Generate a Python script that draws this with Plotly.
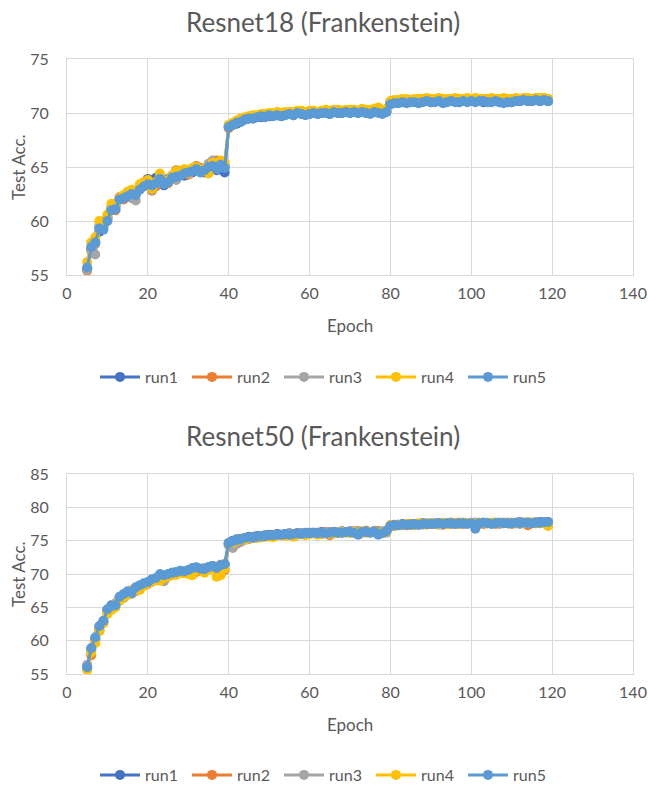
import plotly.graph_objects as go

W, H = 648, 786

epochs = list(range(5, 120))

# ---------- Resnet18 (Frankenstein) ----------
r18_run1 = [55.6, 57.4, 58.1, 59.0, 59.6, 60.2, 61.1, 61.4, 62.1, 62.2,
            62.4, 62.7, 62.6, 63.0, 63.3, 63.9, 63.2, 64.0, 63.8, 63.3,
            63.9, 64.0, 64.4, 64.6, 64.2, 64.3, 64.5, 64.7, 64.9, 64.5,
            64.8, 65.0, 64.7, 65.3, 64.5,
            68.7, 68.9, 69.0, 69.2, 69.4, 69.5, 69.5, 69.6, 69.6, 69.7,
            69.7, 69.8, 69.8, 69.7, 69.9, 69.9, 69.8, 70.0, 69.9, 69.9,
            69.9, 70.0, 69.9, 70.0, 70.1, 69.9, 70.1, 70.0, 70.0, 70.1,
            70.0, 70.1, 70.0, 70.1, 70.0, 70.0, 70.1, 70.1, 70.0, 70.1,
            70.9, 71.0, 71.0, 71.1, 71.0, 71.1, 71.1, 71.0, 71.1, 71.1,
            71.0, 71.1, 71.1, 71.0, 71.1, 71.1, 71.1, 71.0, 71.1, 71.1,
            71.1, 71.1, 71.1, 71.0, 71.1, 71.1, 71.1, 71.0, 71.1, 71.1,
            71.0, 71.1, 71.1, 71.2, 71.1, 71.1, 71.2, 71.1, 71.2, 71.1]
r18_run2 = [55.4, 57.5, 57.9, 59.4, 59.5, 60.4, 61.3, 61.0, 62.2, 62.0,
            62.6, 62.8, 62.5, 63.1, 63.5, 63.6, 62.8, 63.2, 63.9, 63.7,
            63.5, 64.2, 64.7, 64.3, 64.5, 64.3, 64.8, 65.1, 64.7, 64.6,
            64.9, 65.2, 65.6, 65.1, 65.0,
            68.6, 68.9, 69.1, 69.3, 69.5, 69.5, 69.6, 69.7, 69.7, 69.8,
            69.8, 69.9, 69.9, 69.8, 70.0, 70.0, 69.9, 70.1, 70.0, 70.0,
            70.0, 70.1, 70.0, 70.1, 70.1, 70.0, 70.2, 70.1, 70.1, 70.2,
            70.1, 70.2, 70.1, 70.2, 70.1, 70.1, 70.2, 70.2, 70.1, 70.2,
            71.0, 71.0, 71.1, 71.1, 71.1, 71.1, 71.1, 71.0, 71.2, 71.2,
            71.1, 71.2, 71.2, 71.1, 71.1, 71.2, 71.2, 71.1, 71.2, 71.2,
            71.2, 71.1, 71.2, 71.2, 71.1, 71.2, 71.2, 71.1, 71.2, 71.2,
            71.1, 71.2, 71.2, 71.3, 71.2, 71.2, 71.3, 71.2, 71.3, 71.2]
r18_run3 = [55.5, 57.2, 56.9, 59.5, 59.4, 60.3, 61.2, 61.3, 62.0, 62.3,
            62.4, 62.1, 61.9, 63.0, 63.4, 63.5, 62.9, 63.4, 64.0, 63.6,
            63.7, 64.1, 63.8, 64.4, 64.6, 64.6, 64.7, 64.9, 64.8, 64.8,
            65.3, 65.6, 65.4, 65.0, 65.2,
            68.8, 69.0, 69.2, 69.4, 69.5, 69.6, 69.7, 69.7, 69.8, 69.8,
            69.9, 69.9, 70.0, 69.9, 70.0, 70.0, 70.0, 70.1, 70.1, 70.0,
            70.1, 70.1, 70.0, 70.1, 70.2, 70.1, 70.2, 70.2, 70.1, 70.2,
            70.2, 70.2, 70.1, 70.3, 70.2, 70.2, 70.3, 70.3, 70.2, 70.3,
            71.0, 71.1, 71.1, 71.2, 71.2, 71.1, 71.2, 71.2, 71.3, 71.3,
            71.2, 71.2, 71.3, 71.2, 71.2, 71.3, 71.3, 71.2, 71.3, 71.3,
            71.2, 71.3, 71.3, 71.2, 71.3, 71.3, 71.2, 71.3, 71.3, 71.2,
            71.3, 71.3, 71.2, 71.3, 71.3, 71.3, 71.4, 71.3, 71.4, 71.3]
r18_run4 = [56.2, 58.0, 58.5, 60.0, 59.8, 60.6, 61.6, 61.5, 62.1, 62.4,
            62.7, 62.9, 62.7, 63.4, 63.6, 63.8, 63.0, 63.6, 64.4, 63.5,
            63.8, 64.2, 64.6, 64.5, 64.8, 64.4, 64.9, 65.0, 64.6, 64.9,
            64.4, 65.4, 65.3, 65.6, 65.4,
            68.9, 69.1, 69.3, 69.5, 69.6, 69.7, 69.8, 69.8, 69.9, 69.9,
            70.0, 70.0, 70.1, 70.0, 70.1, 70.1, 70.1, 70.2, 70.2, 70.1,
            70.2, 70.2, 70.1, 70.2, 70.3, 70.2, 70.3, 70.3, 70.2, 70.3,
            70.3, 70.3, 70.2, 70.4, 70.3, 70.3, 70.4, 70.5, 70.3, 70.4,
            71.1, 71.2, 71.2, 71.3, 71.3, 71.2, 71.3, 71.3, 71.3, 71.4,
            71.3, 71.3, 71.4, 71.3, 71.3, 71.3, 71.4, 71.3, 71.3, 71.4,
            71.3, 71.4, 71.3, 71.3, 71.3, 71.4, 71.3, 71.3, 71.4, 71.3,
            71.3, 71.4, 71.3, 71.4, 71.4, 71.3, 71.4, 71.4, 71.4, 71.3]
r18_run5 = [55.7, 57.6, 58.0, 59.3, 59.2, 60.0, 61.0, 61.1, 62.0, 62.1,
            62.3, 62.5, 62.4, 62.9, 63.2, 63.4, 63.3, 63.5, 63.9, 63.4,
            63.6, 64.0, 64.1, 64.2, 64.4, 64.5, 64.6, 64.8, 64.5, 64.7,
            65.0, 65.1, 64.8, 65.2, 64.9,
            68.7, 68.9, 69.1, 69.2, 69.4, 69.5, 69.5, 69.6, 69.7, 69.6,
            69.8, 69.7, 69.8, 69.7, 69.8, 69.9, 69.8, 70.0, 69.9, 69.8,
            69.9, 70.0, 69.9, 70.0, 70.0, 69.9, 70.1, 70.0, 70.0, 70.1,
            70.0, 70.1, 70.0, 70.1, 70.0, 69.9, 70.1, 70.0, 69.9, 70.1,
            70.8, 70.9, 70.9, 71.0, 70.9, 71.0, 71.0, 70.9, 71.0, 71.1,
            71.0, 71.0, 71.1, 70.9, 71.0, 71.1, 71.0, 71.0, 71.1, 71.0,
            71.1, 71.0, 71.1, 71.1, 71.0, 71.0, 71.1, 71.0, 70.9, 71.0,
            71.0, 71.1, 71.1, 71.2, 71.1, 71.1, 71.2, 71.1, 71.2, 71.1]

# ---------- Resnet50 (Frankenstein) ----------
r50_run1 = [56.2, 58.7, 60.3, 61.5, 62.7, 64.6, 65.3, 65.5, 66.4, 66.9,
            67.3, 67.4, 67.9, 68.2, 68.5, 68.7, 69.1, 69.3, 69.8, 69.7,
            69.9, 70.2, 70.2, 70.4, 70.3, 70.5, 70.8, 70.9, 70.7, 70.8,
            71.0, 71.2, 71.0, 71.2, 71.4,
            74.7, 75.0, 75.2, 75.3, 75.4, 75.6, 75.6, 75.7, 75.7, 75.8,
            75.9, 75.8, 76.0, 75.9, 76.0, 76.1, 76.0, 76.1, 76.1, 76.2,
            76.2, 76.2, 76.1, 76.3, 76.2, 76.3, 76.3, 76.2, 76.4, 76.3,
            76.4, 76.3, 76.4, 76.3, 76.5, 76.3, 76.4, 76.4, 76.3, 76.5,
            77.2, 77.4, 77.3, 77.5, 77.4, 77.5, 77.4, 77.5, 77.6, 77.5,
            77.6, 77.5, 77.6, 77.6, 77.5, 77.7, 77.6, 77.5, 77.7, 77.6,
            77.6, 77.7, 77.6, 77.7, 77.7, 77.6, 77.7, 77.6, 77.7, 77.7,
            77.7, 77.6, 77.8, 77.7, 77.7, 77.7, 77.6, 77.8, 77.7, 77.8]
r50_run2 = [55.9, 57.8, 60.0, 61.7, 62.9, 64.3, 65.1, 65.4, 66.2, 66.8,
            67.1, 67.5, 67.4, 68.0, 68.5, 68.5, 69.1, 69.2, 69.5, 69.6,
            69.7, 69.9, 70.1, 70.3, 70.2, 70.4, 70.6, 70.3, 70.8, 70.6,
            70.9, 71.1, 71.0, 71.4, 70.6,
            74.4, 74.8, 75.0, 75.1, 75.3, 75.3, 75.5, 75.6, 75.5, 75.7,
            75.8, 75.7, 75.9, 75.8, 75.9, 76.0, 75.9, 76.1, 76.0, 76.0,
            76.1, 76.1, 76.2, 76.0, 76.3, 75.8, 76.2, 76.2, 76.3, 76.3,
            76.2, 76.4, 76.3, 76.2, 76.4, 76.3, 76.3, 76.4, 76.3, 76.4,
            77.3, 77.2, 77.4, 77.4, 77.3, 77.5, 77.5, 77.4, 77.6, 77.5,
            77.5, 77.6, 77.5, 77.4, 77.6, 77.5, 77.6, 77.7, 77.5, 77.6,
            77.6, 77.6, 77.7, 77.5, 77.6, 77.7, 77.5, 77.7, 77.6, 77.7,
            77.5, 77.6, 77.7, 77.6, 77.3, 77.6, 77.7, 77.6, 77.7, 77.6]
r50_run3 = [56.4, 58.5, 60.2, 62.0, 62.8, 64.5, 65.0, 65.6, 66.3, 66.4,
            67.2, 67.0, 67.8, 68.1, 68.4, 68.6, 69.0, 69.1, 69.6, 68.9,
            69.8, 70.1, 70.0, 70.2, 70.3, 70.5, 70.4, 70.6, 70.7, 70.9,
            70.8, 71.0, 71.1, 71.0, 71.3,
            74.3, 73.9, 74.5, 74.8, 75.1, 75.2, 75.4, 75.5, 75.5, 75.6,
            75.7, 75.7, 75.8, 75.9, 75.8, 76.0, 76.0, 75.9, 76.1, 76.1,
            76.0, 76.1, 76.2, 76.1, 76.2, 76.3, 76.1, 76.3, 76.2, 76.3,
            76.4, 76.2, 76.3, 76.3, 76.4, 76.2, 76.4, 76.3, 76.4, 76.2,
            77.1, 77.3, 77.4, 77.3, 77.5, 77.3, 77.4, 77.5, 77.4, 77.6,
            77.5, 77.6, 77.4, 77.6, 77.5, 77.7, 77.5, 77.6, 77.5, 77.6,
            77.7, 77.6, 77.5, 77.7, 77.6, 77.6, 77.7, 77.5, 77.7, 77.6,
            77.6, 77.7, 77.5, 77.7, 77.6, 77.7, 77.8, 77.6, 77.7, 77.7]
r50_run4 = [55.6, 58.2, 59.6, 61.4, 62.6, 64.0, 64.6, 65.0, 66.0, 66.5,
            66.9, 67.6, 67.5, 67.6, 68.2, 68.6, 68.8, 69.2, 69.0, 69.4,
            69.6, 70.0, 69.9, 70.2, 70.1, 70.0, 69.8, 70.5, 70.8, 70.2,
            70.6, 70.9, 69.6, 69.8, 70.8,
            74.6, 74.7, 75.0, 75.2, 75.1, 75.4, 75.5, 75.4, 75.6, 75.7,
            75.6, 75.5, 75.8, 75.8, 75.7, 75.9, 75.6, 75.9, 76.0, 75.8,
            76.0, 76.1, 75.9, 76.1, 76.2, 76.0, 76.2, 76.1, 76.3, 76.2,
            76.2, 76.3, 76.1, 76.4, 76.2, 76.3, 76.5, 76.2, 76.2, 76.3,
            77.3, 77.2, 77.4, 77.3, 77.5, 77.4, 77.4, 77.6, 77.5, 77.4,
            77.6, 77.5, 77.5, 77.7, 77.5, 77.6, 77.6, 77.5, 77.7, 77.6,
            77.6, 77.5, 77.7, 77.6, 77.6, 77.7, 77.6, 77.6, 77.7, 77.6,
            77.7, 77.6, 77.7, 77.6, 77.8, 77.7, 77.6, 77.7, 77.6, 77.2]
r50_run5 = [56.0, 58.9, 60.5, 62.2, 63.0, 64.7, 65.2, 65.3, 66.6, 67.0,
            67.4, 67.2, 68.0, 68.3, 68.6, 68.8, 69.2, 69.4, 70.0, 69.8,
            70.0, 70.2, 70.3, 70.5, 70.4, 70.6, 70.9, 71.0, 70.8, 70.7,
            71.0, 71.2, 70.9, 71.3, 71.5,
            74.6, 74.9, 75.1, 75.2, 75.4, 75.5, 75.5, 75.6, 75.7, 75.7,
            75.8, 75.8, 75.9, 75.9, 76.0, 75.9, 76.0, 76.1, 76.0, 76.1,
            76.1, 76.2, 76.1, 76.2, 76.1, 76.2, 76.3, 76.2, 76.2, 76.3,
            76.3, 76.2, 75.9, 76.3, 76.3, 76.2, 76.4, 75.9, 76.1, 76.4,
            77.2, 77.3, 77.3, 77.4, 77.4, 77.4, 77.5, 77.4, 77.5, 77.5,
            77.5, 77.5, 77.6, 77.5, 77.6, 77.6, 77.5, 77.6, 77.6, 77.5,
            77.6, 76.8, 77.6, 77.7, 77.6, 77.5, 77.6, 77.7, 77.6, 77.6,
            77.6, 77.7, 77.6, 77.7, 77.7, 77.6, 77.7, 77.7, 77.8, 77.8]

run_names = ["run1", "run2", "run3", "run4", "run5"]
colors = ["#4472C4", "#ED7D31", "#A5A5A5", "#FFC000", "#5B9BD5"]
r18_series = [r18_run1, r18_run2, r18_run3, r18_run4, r18_run5]
r50_series = [r50_run1, r50_run2, r50_run3, r50_run4, r50_run5]

titles = ["Resnet18 (Frankenstein)", "Resnet50 (Frankenstein)"]
x_ticks = [0, 20, 40, 60, 80, 100, 120, 140]

FONT = "Lato"
TXT = "#595959"
GRID = "#D9D9D9"


def xp(px):
    return px / W


def yp(py):
    return 1 - py / H


fig = go.Figure()

for i, (name, col) in enumerate(zip(run_names, colors)):
    fig.add_trace(go.Scatter(
        x=epochs, y=r18_series[i], name=name, mode="lines+markers",
        line=dict(color=col, width=3), marker=dict(color=col, size=10),
        xaxis="x", yaxis="y", legend="legend"))
for i, (name, col) in enumerate(zip(run_names, colors)):
    fig.add_trace(go.Scatter(
        x=epochs, y=r50_series[i], name=name, mode="lines+markers",
        line=dict(color=col, width=3), marker=dict(color=col, size=10),
        xaxis="x2", yaxis="y2", legend="legend2"))

axis_common = dict(showgrid=True, gridcolor=GRID, gridwidth=1,
                   showline=True, linecolor=GRID, linewidth=1, mirror=True,
                   zeroline=False, ticks="",
                   tickfont=dict(family=FONT, size=16, color=TXT))

# pixel geometry
X_L, X_R = 67, 633
T1, B1 = 59, 275
T2, B2 = 474, 674

legend_common = dict(orientation="h", x=xp(325), xanchor="center",
                     yanchor="middle", itemwidth=40, tracegroupgap=0,
                     entrywidth=37, entrywidthmode="pixels",
                     font=dict(family=FONT, size=16, color=TXT),
                     bgcolor="rgba(0,0,0,0)")

fig.update_layout(
    width=W, height=H,
    margin=dict(l=0, r=0, t=0, b=0, autoexpand=False),
    paper_bgcolor="white", plot_bgcolor="white",
    font=dict(family=FONT, color=TXT),
    xaxis=dict(domain=[xp(X_L), xp(X_R)], range=[0, 140], tickvals=x_ticks,
               anchor="y", ticklabelstandoff=4, **axis_common),
    yaxis=dict(domain=[yp(B1), yp(T1)], range=[55, 75], dtick=5,
               anchor="x", ticklabelstandoff=14, **axis_common),
    xaxis2=dict(domain=[xp(X_L), xp(X_R)], range=[0, 140], tickvals=x_ticks,
                anchor="y2", ticklabelstandoff=4, **axis_common),
    yaxis2=dict(domain=[yp(B2), yp(T2)], range=[55, 85], dtick=5,
                anchor="x2", ticklabelstandoff=14, **axis_common),
    legend=dict(y=yp(377), **legend_common),
    legend2=dict(y=yp(775), **legend_common),
    showlegend=True,
)

ann = []
for t, ty in zip(titles, [22, 436]):
    ann.append(dict(text=t, x=xp(323), y=yp(ty), xref="paper", yref="paper",
                    xanchor="center", yanchor="middle", showarrow=False,
                    font=dict(family=FONT, size=26, color=TXT)))
for ey in [325, 724]:
    ann.append(dict(text="Epoch", x=xp((X_L + X_R) / 2), y=yp(ey),
                    xref="paper", yref="paper", xanchor="center",
                    yanchor="middle", showarrow=False,
                    font=dict(family=FONT, size=17, color=TXT)))
for cy in [(T1 + B1) / 2, (T2 + B2) / 2]:
    ann.append(dict(text="Test Acc.", x=xp(18), y=yp(cy), xref="paper",
                    yref="paper", xanchor="center", yanchor="middle",
                    textangle=-90, showarrow=False,
                    font=dict(family=FONT, size=17, color=TXT)))
fig.update_layout(annotations=ann)

fig.write_html("out.html")
